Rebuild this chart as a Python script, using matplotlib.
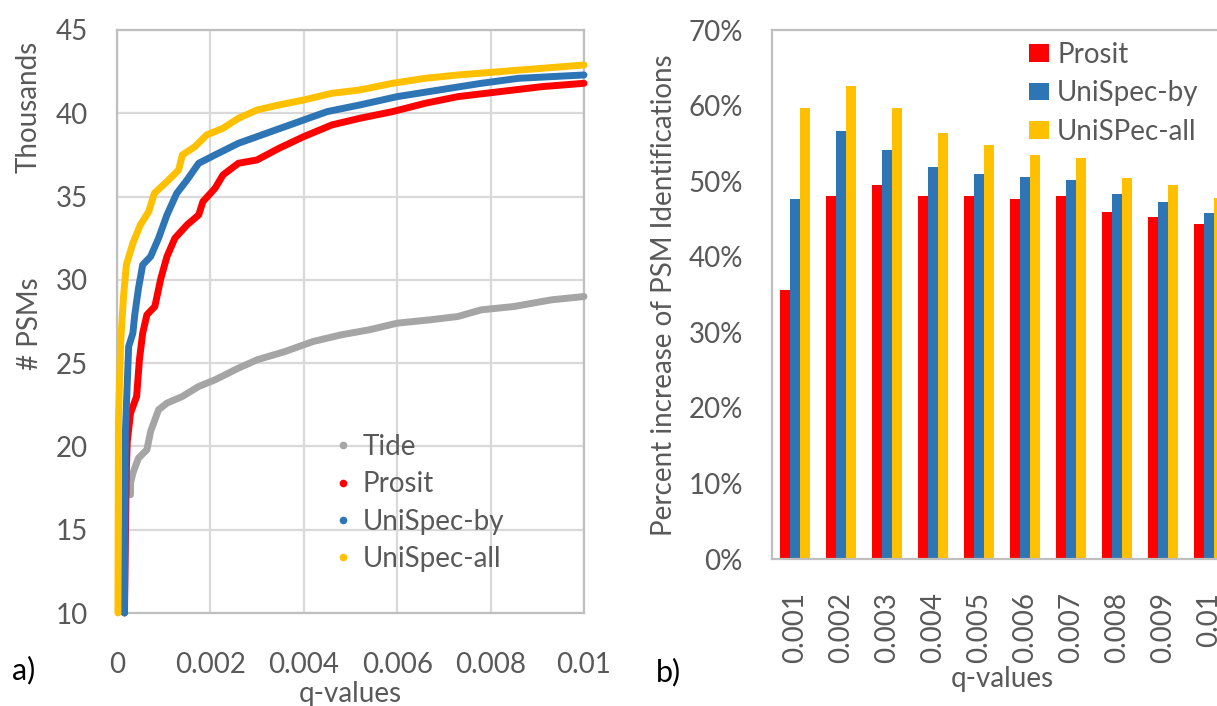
import matplotlib
matplotlib.use("Agg")
import matplotlib.pyplot as plt
from matplotlib.lines import Line2D
import numpy as np

plt.rcParams['font.family'] = ['Lato', 'DejaVu Sans']

GRAY_TXT = '#595959'
FRAME = '#BFBFBF'
C_TIDE = '#A5A5A5'
C_PROSIT = '#FF0000'
C_BY = '#2E75B6'
C_ALL = '#FFC000'
FS = 20

# a) PSMs (thousands) accepted at each q-value threshold
tide_q = [0.00029, 0.00029, 0.00034, 0.00046, 0.00064, 0.00072, 0.00089, 0.00107,
          0.0014, 0.00175, 0.0021, 0.0026, 0.003, 0.0036, 0.0042, 0.0048, 0.0054,
          0.006, 0.0067, 0.0073, 0.0078, 0.0085, 0.0093, 0.01]
tide_n = [17.1, 17.8, 18.4, 19.3, 19.8, 20.9, 22.2, 22.6, 23.0, 23.6, 24.0, 24.7,
          25.2, 25.7, 26.3, 26.7, 27.0, 27.4, 27.6, 27.8, 28.2, 28.4, 28.8, 29.0]

prosit_q = [0.00016, 0.00018, 0.0002, 0.00022, 0.00029, 0.00042, 0.00048, 0.00055,
            0.00064, 0.00081, 0.00094, 0.00107, 0.00124, 0.0015, 0.00175, 0.00184,
            0.0021, 0.00227, 0.0026, 0.003, 0.00347, 0.004, 0.0046, 0.0052, 0.0059,
            0.0066, 0.0073, 0.0082, 0.0091, 0.01]
prosit_n = [10.0, 14.4, 18.5, 20.3, 22.0, 23.0, 25.2, 26.8, 27.9, 28.4, 30.1, 31.4,
            32.5, 33.3, 33.9, 34.7, 35.5, 36.3, 37.0, 37.2, 37.9, 38.6, 39.3, 39.7,
            40.1, 40.6, 41.0, 41.3, 41.6, 41.8]

by_q = [0.00016, 0.00018, 0.00022, 0.00025, 0.00034, 0.00038, 0.00046, 0.00055,
        0.00072, 0.00089, 0.00107, 0.00128, 0.0015, 0.00175, 0.0021, 0.0026, 0.0031,
        0.0038, 0.0045, 0.0052, 0.006, 0.0069, 0.0078, 0.0086, 0.01]
by_n = [10.0, 20.9, 23.8, 26.0, 26.8, 27.9, 29.5, 30.9, 31.4, 32.5, 33.9, 35.2,
        36.0, 37.0, 37.5, 38.2, 38.7, 39.4, 40.1, 40.5, 41.0, 41.4, 41.8, 42.1, 42.3]

all_q = [0.00002, 0.00003, 0.00008, 0.00014, 0.0002, 0.00034, 0.0005, 0.00068,
         0.0008, 0.00107, 0.00132, 0.0014, 0.00167, 0.00192, 0.00227, 0.0026,
         0.003, 0.00347, 0.004, 0.0046, 0.0052, 0.0059, 0.0066, 0.0073, 0.0082,
         0.0091, 0.01]
all_n = [10.0, 21.5, 26.3, 29.0, 30.9, 32.2, 33.3, 34.1, 35.2, 35.9, 36.6, 37.5,
         38.0, 38.7, 39.1, 39.7, 40.2, 40.5, 40.8, 41.2, 41.4, 41.8, 42.1, 42.3,
         42.5, 42.7, 42.9]

# b) percent increase of PSMs over Tide
q_labels = ['0.001', '0.002', '0.003', '0.004', '0.005',
            '0.006', '0.007', '0.008', '0.009', '0.01']
inc_prosit = [35.6, 48.0, 49.5, 48.1, 48.1, 47.7, 48.0, 45.9, 45.3, 44.3]
inc_by = [47.6, 56.6, 54.1, 51.9, 50.9, 50.5, 50.2, 48.3, 47.3, 45.8]
inc_all = [59.7, 62.6, 59.7, 56.4, 54.8, 53.5, 53.0, 50.4, 49.5, 47.8]

W, H = 1217, 706
fig = plt.figure(figsize=(W / 100, H / 100), dpi=100)


def px(x, y):
    return x / W, 1 - y / H


# ---- panel a ----
ax1 = fig.add_axes([117 / W, 1 - 613 / H, 467 / W, 583 / H])
for q, n, c in [(tide_q, tide_n, C_TIDE), (prosit_q, prosit_n, C_PROSIT),
                (by_q, by_n, C_BY), (all_q, all_n, C_ALL)]:
    ax1.plot(q, n, color=c, lw=5, solid_joinstyle='round',
             solid_capstyle='round', zorder=3, clip_on=False)
ax1.set_xlim(0, 0.01)
ax1.set_ylim(10, 45)
ax1.set_xticks(np.arange(0, 0.0101, 0.002))
ax1.set_xticklabels(['0', '0.002', '0.004', '0.006', '0.008', '0.01'])
ax1.set_yticks(range(10, 46, 5))
ax1.grid(True, color='#D9D9D9', lw=1.6, zorder=0)
for s in ax1.spines.values():
    s.set_color(FRAME)
    s.set_linewidth(1.6)
ax1.tick_params(length=0, labelsize=FS, colors=GRAY_TXT)
ax1.tick_params(axis='y', pad=21)
ax1.tick_params(axis='x', pad=28)
ax1.set_xlabel('q-values', fontsize=FS, color=GRAY_TXT, labelpad=2)
fig.text(*px(29, 107), 'Thousands', rotation=90, fontsize=FS,
         color=GRAY_TXT, ha='center', va='center')
fig.text(*px(30, 324), '# PSMs', rotation=90, fontsize=FS,
         color=GRAY_TXT, ha='center', va='center')

handles = [Line2D([], [], ls='none', marker='o', ms=5.5, mec='none', color=c)
           for c in (C_TIDE, C_PROSIT, C_BY, C_ALL)]
ax1.legend(handles, ['Tide', 'Prosit', 'UniSpec-by', 'UniSpec-all'],
           loc='upper left', bbox_to_anchor=(0.436, 0.326), frameon=False,
           fontsize=FS, labelcolor=GRAY_TXT, handlelength=0.8,
           handletextpad=0.3, labelspacing=0.41, borderaxespad=0)

fig.text(*px(24, 670), 'a)', fontsize=22, color='black',
         ha='center', va='center')

# ---- panel b ----
ax2 = fig.add_axes([772 / W, 1 - 559 / H, 460 / W, 529 / H])
x = np.arange(len(q_labels))
w = 0.215
ax2.bar(x - w, inc_prosit, w, color=C_PROSIT, label='Prosit', zorder=2)
ax2.bar(x, inc_by, w, color=C_BY, label='UniSpec-by', zorder=2)
ax2.bar(x + w, inc_all, w, color=C_ALL, label='UniSPec-all', zorder=2)
ax2.set_xlim(-0.5, len(q_labels) - 0.5)
ax2.set_ylim(0, 70)
ax2.set_yticks(range(0, 71, 10))
ax2.set_yticklabels([f'{v}%' for v in range(0, 71, 10)])
ax2.set_xticks(x)
ax2.set_xticklabels(q_labels, rotation=90)
for s in ax2.spines.values():
    s.set_color(FRAME)
    s.set_linewidth(1.6)
ax2.tick_params(length=0, labelsize=FS, colors=GRAY_TXT)
ax2.tick_params(axis='y', pad=21)
ax2.tick_params(axis='x', pad=24)
ax2.set_xlabel('q-values', fontsize=FS, color=GRAY_TXT, labelpad=2)
fig.text(*px(664, 295), 'Percent increase of PSM Identifications', rotation=90,
         fontsize=FS, color=GRAY_TXT, ha='center', va='center')
ax2.legend(loc='upper left', bbox_to_anchor=(0.534, 0.999), frameon=False,
           fontsize=FS, labelcolor=GRAY_TXT, handlelength=0.74, handleheight=0.6,
           handletextpad=0.28, labelspacing=0.45, borderaxespad=0)

fig.text(*px(668, 672), 'b)', fontsize=22, color='black',
         ha='center', va='center')

fig.savefig('out.png', dpi=100)
